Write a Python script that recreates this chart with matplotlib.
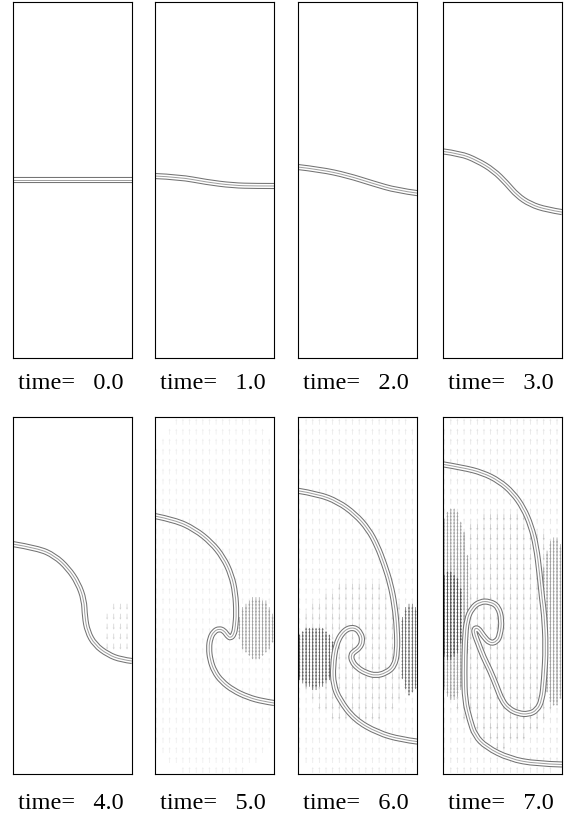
import numpy as np
import matplotlib.pyplot as plt
from matplotlib.path import Path
from matplotlib.patches import PathPatch

plt.rcParams['font.family'] = ['Liberation Serif', 'DejaVu Serif']

times = [0.0, 1.0, 2.0, 3.0, 4.0, 5.0, 6.0, 7.0]

iface_x_t0 = [0.0, 1.0]
iface_y_t0 = [1.500, 1.500]

iface_x_t1 = [0.0, 0.208, 0.431, 0.653, 0.848, 1.0]
iface_y_t1 = [1.536, 1.527, 1.485, 1.457, 1.452, 1.452]

iface_x_t2 = [0.0, 0.189, 0.412, 0.633, 0.828, 1.0]
iface_y_t2 = [1.612, 1.590, 1.542, 1.472, 1.415, 1.392]

iface_x_t3 = [0.0, 0.148, 0.288, 0.427, 0.539, 0.623, 0.735, 0.874, 1.0]
iface_y_t3 = [1.744, 1.725, 1.668, 1.584, 1.472, 1.373, 1.297, 1.252, 1.232]

iface_x_t4 = [0.0, 0.214, 0.354, 0.465, 0.549, 0.599, 0.605, 0.627, 0.688, 0.800, 0.911, 1.0]
iface_y_t4 = [1.934, 1.898, 1.834, 1.730, 1.604, 1.463, 1.323, 1.197, 1.085, 1.001, 0.959, 0.948]

iface_x_t5 = [0.0, 0.170, 0.336, 0.475, 0.573, 0.642, 0.675, 0.684, 0.675, 0.664, 0.636,
              0.609, 0.581, 0.539, 0.495, 0.464, 0.453, 0.464, 0.498, 0.559, 0.656, 0.781,
              0.906, 1.0]
iface_y_t5 = [2.170, 2.136, 2.058, 1.946, 1.822, 1.674, 1.519, 1.351, 1.239, 1.177, 1.141,
              1.161, 1.203, 1.220, 1.197, 1.141, 1.057, 0.959, 0.861, 0.777, 0.701, 0.642,
              0.608, 0.594]

iface_x_t6 = [0.0, 0.170, 0.337, 0.480, 0.590, 0.665, 0.725, 0.775, 0.810, 0.830, 0.833,
              0.806, 0.737, 0.653, 0.570, 0.500, 0.453, 0.445, 0.473, 0.514, 0.542,
              0.528, 0.473, 0.389, 0.320, 0.292, 0.298, 0.348, 0.475, 0.670, 0.864, 1.0]
iface_y_t6 = [2.383, 2.355, 2.290, 2.185, 2.060, 1.920, 1.760, 1.600, 1.420, 1.220, 1.020,
              0.902, 0.847, 0.824, 0.847, 0.889, 0.944, 1.001, 1.029, 1.057, 1.113,
              1.183, 1.234, 1.211, 1.099, 0.902, 0.749, 0.622, 0.454, 0.342, 0.286, 0.269]

iface_x_t7 = [0.0, 0.168, 0.336, 0.476, 0.588, 0.677, 0.742, 0.784, 0.812, 0.834, 0.850,
              0.865, 0.850, 0.832, 0.790, 0.719, 0.635, 0.551, 0.496, 0.454, 0.397, 0.341,
              0.299, 0.271, 0.263, 0.297, 0.341, 0.397, 0.454, 0.482, 0.496, 0.467, 0.397,
              0.313, 0.244, 0.202, 0.187, 0.182, 0.187, 0.229, 0.271, 0.364, 0.560, 0.784, 1.0]
iface_y_t7 = [2.606, 2.578, 2.535, 2.464, 2.366, 2.239, 2.084, 1.915, 1.689, 1.464, 1.351,
              1.069, 0.787, 0.618, 0.533, 0.499, 0.505, 0.547, 0.618, 0.730, 0.871, 0.984,
              1.097, 1.168, 1.218, 1.227, 1.159, 1.097, 1.111, 1.168, 1.294, 1.407, 1.449,
              1.449, 1.393, 1.294, 1.125, 0.843, 0.618, 0.448, 0.321, 0.223, 0.124, 0.082, 0.076]

iface_x = [iface_x_t0, iface_x_t1, iface_x_t2, iface_x_t3,
           iface_x_t4, iface_x_t5, iface_x_t6, iface_x_t7]
iface_y = [iface_y_t0, iface_y_t1, iface_y_t2, iface_y_t3,
           iface_y_t4, iface_y_t5, iface_y_t6, iface_y_t7]

# blobs where velocity arrows show up: frame index, centre, half sizes,
# vertical direction (+1 up, -1 down), grey level and mesh stride
vel_frame = [4, 5, 5, 6, 6, 6, 6, 7, 7, 7, 7, 7]
vel_cx = [0.88, 0.50, 0.85, 0.50, 0.50, 0.14, 0.94, 0.50, 0.50, 0.08, 0.06, 0.94]
vel_cy = [1.25, 1.50, 1.25, 1.50, 1.05, 0.95, 1.08, 1.50, 1.25, 1.40, 1.30, 1.30]
vel_a = [0.14, 0.80, 0.15, 0.80, 0.50, 0.18, 0.09, 0.80, 0.55, 0.15, 0.12, 0.12]
vel_b = [0.22, 1.60, 0.25, 1.75, 0.60, 0.25, 0.38, 1.80, 1.00, 0.80, 0.36, 0.70]
vel_dir = [-1, 1, -1, 1, -1, 1, -1, 1, -1, 1, 1, -1]
vel_grey = [0.82, 0.93, 0.62, 0.91, 0.78, 0.35, 0.40, 0.89, 0.75, 0.62, 0.30, 0.62]
vel_step = [2, 2, 1, 2, 2, 1, 1, 2, 2, 1, 1, 1]

W, H = 567, 821
col_left = [12.5, 154.7, 297.8, 442.5]   # px
row_top = [2.3, 417.5]                   # px
box_w, box_h = 119.5, 356.0
label_y = [383, 803]

# output mesh of the run (cell centres) on which the arrows sit
mesh_x = np.linspace(0.5 / 36, 1 - 0.5 / 36, 36)
mesh_y = np.linspace(0.5 / 108, 3 - 0.5 / 108, 108)
MX, MY = np.meshgrid(mesh_x, mesh_y)


def smooth_path(xs, ys):
    p = np.column_stack([xs, ys])
    if len(p) < 3:
        return Path(p)
    verts = [p[0]]
    codes = [Path.MOVETO]
    for k in range(1, len(p) - 1):
        end = p[k + 1] if k == len(p) - 2 else (p[k] + p[k + 1]) / 2
        verts += [p[k], end]
        codes += [Path.CURVE3, Path.CURVE3]
    return Path(verts, codes)


fig = plt.figure(figsize=(W / 100, H / 100), dpi=100)

for i, t in enumerate(times):
    r, c = divmod(i, 4)
    left = col_left[c] / W
    bottom = 1 - (row_top[r] + box_h) / H
    ax = fig.add_axes([left, bottom, box_w / W, box_h / H])
    ax.set_xlim(0, 1)
    ax.set_ylim(0, 3)
    ax.set_xticks([])
    ax.set_yticks([])
    for s in ax.spines.values():
        s.set_color('black')
        s.set_linewidth(0.8)
        s.set_zorder(5)

    for k in range(len(vel_frame)):
        if vel_frame[k] != i:
            continue
        st = vel_step[k]
        gx, gy = MX[::st + 1 if st > 1 else 1, ::st], MY[::st + 1 if st > 1 else 1, ::st]
        m = ((gx - vel_cx[k]) / vel_a[k]) ** 2 + ((gy - vel_cy[k]) / vel_b[k]) ** 2 <= 1
        n = m.sum()
        ax.quiver(gx[m], gy[m], np.zeros(n), np.full(n, 0.05 * vel_dir[k]),
                  angles='xy', scale_units='xy', scale=1, color=str(vel_grey[k]),
                  width=0.006, headwidth=3, headlength=3, headaxislength=2.6, zorder=1)

    path = smooth_path(iface_x[i], iface_y[i])
    # three neighbouring contour levels drawn as a banded line
    for col, lw in [('0.45', 4.4), ('white', 2.9), ('0.62', 0.7)]:
        ax.add_patch(PathPatch(path, fill=False, edgecolor=col, lw=lw,
                               capstyle='butt', joinstyle='round', zorder=3))

    fig.text((col_left[c] + box_w / 2 - 1.5) / W, 1 - label_y[r] / H,
             'time=   %.1f' % t, ha='center', va='center', fontsize=17.5)

fig.savefig('out.png', dpi=100)
